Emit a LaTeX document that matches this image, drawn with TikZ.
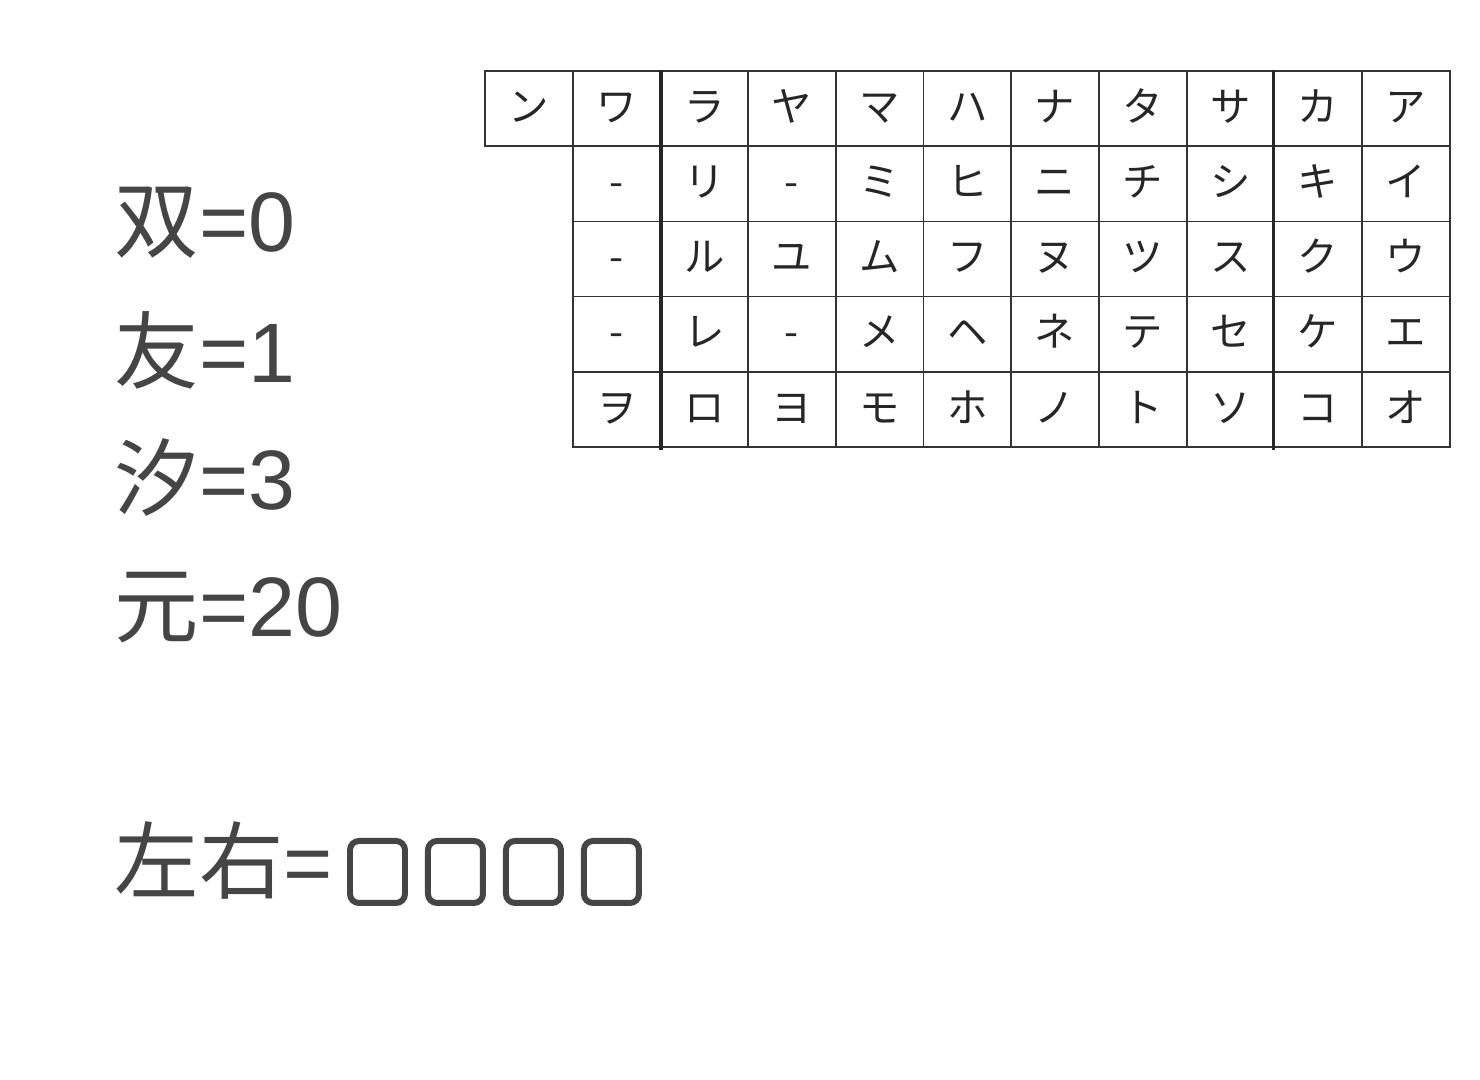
\documentclass[tikz,border=0pt]{standalone}
\usepackage{fontspec}
\usepackage{xcolor}
\usepackage{tikz}
\usetikzlibrary{positioning}
\newfontfamily\cjk{Noto Sans CJK SC}
\newfontfamily\kana{Noto Sans CJK JP}
\newfontfamily\lat{Liberation Sans}

\begin{document}
\begin{tikzpicture}[
  cell/.style={draw=black!80, line width=0.5pt, minimum width=0.877cm, minimum height=0.752cm, inner sep=0pt, text height=0.8em, text depth=0.08em, text=black!85, font=\kana\fontsize{11.5}{11.5}\selectfont},
  eqn/.style={anchor=base west, inner sep=0pt, text=black!73, font=\cjk\fontsize{24}{24}\selectfont},
  tofu/.style={draw=black!73, line width=1.7pt, rounded corners=0.09cm, minimum width=0.55cm, minimum height=0.62cm, inner sep=0pt}
]
\useasboundingbox (0,0) rectangle (14.8,10.8);

% left side
\node[eqn] (shuang) at (1.14, 8.28) {双{\lat =0}};
\node[eqn] (you) at (1.14, 6.97) {友{\lat =1}};
\node[eqn] (xi) at (1.14, 5.70) {汐{\lat =3}};
\node[eqn] (yuan) at (1.14, 4.43) {元{\lat =20}};
\node[eqn] (zuoyou) at (1.14, 1.87) {左右{\lat =}};

\node[tofu] (b1) at (3.775, 2.08) {};
\node[tofu, right=0.17cm of b1] (b2) {};
\node[tofu, right=0.17cm of b2] (b3) {};
\node[tofu, right=0.17cm of b3] (b4) {};

% table, row 1
\node[cell] (k-n) at (5.289, 9.714) {ン};
\node[cell] (k-wa) at (6.166, 9.714) {ワ};
\node[cell] (k-ra) at (7.043, 9.714) {ラ};
\node[cell] (k-ya) at (7.920, 9.714) {ヤ};
\node[cell] (k-ma) at (8.797, 9.714) {マ};
\node[cell] (k-ha) at (9.674, 9.714) {ハ};
\node[cell] (k-na) at (10.551, 9.714) {ナ};
\node[cell] (k-ta) at (11.428, 9.714) {タ};
\node[cell] (k-sa) at (12.305, 9.714) {サ};
\node[cell] (k-ka) at (13.182, 9.714) {カ};
\node[cell] (k-a) at (14.059, 9.714) {ア};

% row 2
\node[cell] (k-wi) at (6.166, 8.962) {-};
\node[cell] (k-ri) at (7.043, 8.962) {リ};
\node[cell] (k-yi) at (7.920, 8.962) {-};
\node[cell] (k-mi) at (8.797, 8.962) {ミ};
\node[cell] (k-hi) at (9.674, 8.962) {ヒ};
\node[cell] (k-ni) at (10.551, 8.962) {ニ};
\node[cell] (k-chi) at (11.428, 8.962) {チ};
\node[cell] (k-shi) at (12.305, 8.962) {シ};
\node[cell] (k-ki) at (13.182, 8.962) {キ};
\node[cell] (k-i) at (14.059, 8.962) {イ};

% row 3
\node[cell] (k-wu) at (6.166, 8.210) {-};
\node[cell] (k-ru) at (7.043, 8.210) {ル};
\node[cell] (k-yu) at (7.920, 8.210) {ユ};
\node[cell] (k-mu) at (8.797, 8.210) {ム};
\node[cell] (k-fu) at (9.674, 8.210) {フ};
\node[cell] (k-nu) at (10.551, 8.210) {ヌ};
\node[cell] (k-tsu) at (11.428, 8.210) {ツ};
\node[cell] (k-su) at (12.305, 8.210) {ス};
\node[cell] (k-ku) at (13.182, 8.210) {ク};
\node[cell] (k-u) at (14.059, 8.210) {ウ};

% row 4
\node[cell] (k-we) at (6.166, 7.458) {-};
\node[cell] (k-re) at (7.043, 7.458) {レ};
\node[cell] (k-ye) at (7.920, 7.458) {-};
\node[cell] (k-me) at (8.797, 7.458) {メ};
\node[cell] (k-he) at (9.674, 7.458) {ヘ};
\node[cell] (k-ne) at (10.551, 7.458) {ネ};
\node[cell] (k-te) at (11.428, 7.458) {テ};
\node[cell] (k-se) at (12.305, 7.458) {セ};
\node[cell] (k-ke) at (13.182, 7.458) {ケ};
\node[cell] (k-e) at (14.059, 7.458) {エ};

% row 5
\node[cell] (k-wo) at (6.166, 6.706) {ヲ};
\node[cell] (k-ro) at (7.043, 6.706) {ロ};
\node[cell] (k-yo) at (7.920, 6.706) {ヨ};
\node[cell] (k-mo) at (8.797, 6.706) {モ};
\node[cell] (k-ho) at (9.674, 6.706) {ホ};
\node[cell] (k-no) at (10.551, 6.706) {ノ};
\node[cell] (k-to) at (11.428, 6.706) {ト};
\node[cell] (k-so) at (12.305, 6.706) {ソ};
\node[cell] (k-ko) at (13.182, 6.706) {コ};
\node[cell] (k-o) at (14.059, 6.706) {オ};

\draw[line width=1.1pt, black!85] (k-wa.north east) -- ([yshift=-0.02cm]k-wo.south east);
\draw[line width=1.1pt, black!85] (k-ka.north west) -- ([yshift=-0.02cm]k-ko.south west);
\end{tikzpicture}
\end{document}
